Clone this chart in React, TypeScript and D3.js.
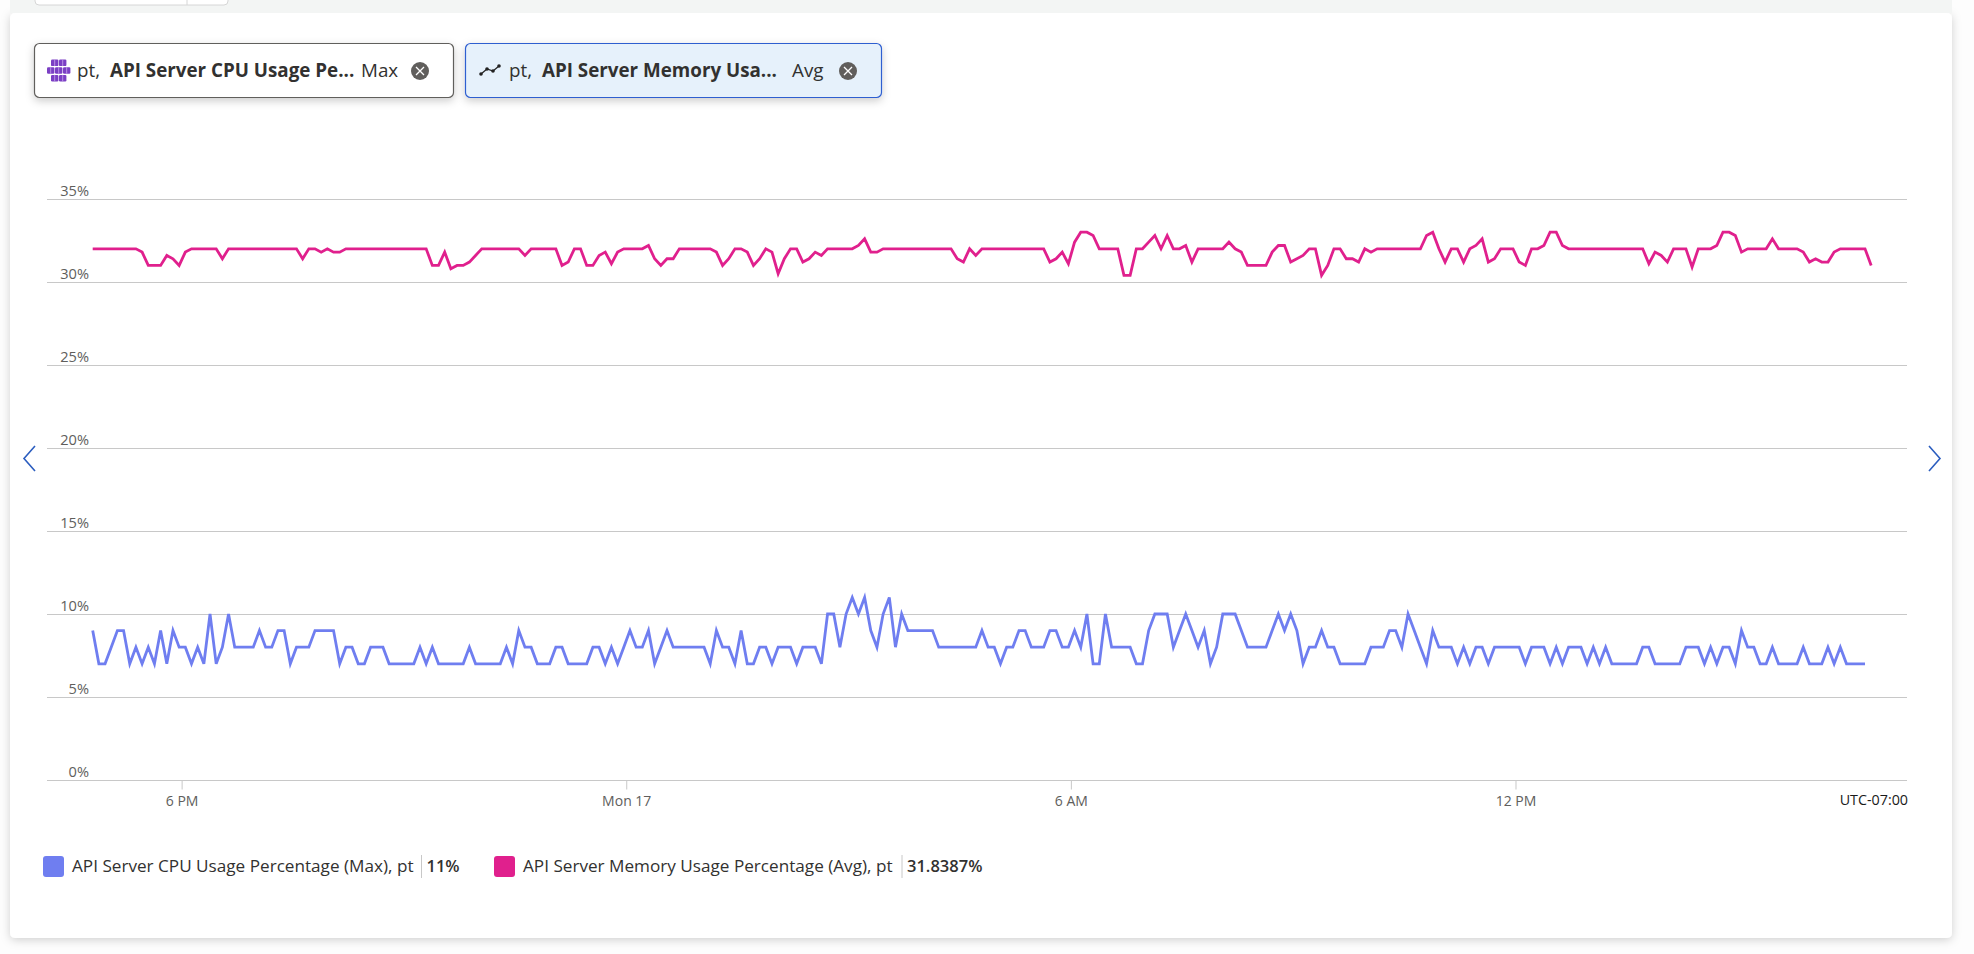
import React, { useEffect, useRef } from "react";
import * as d3 from "d3";

const width = 1974;
const height = 954;
const margin = { left: 47, right: 1907, top: 199, bottom: 780 };

const font = "'Open Sans', sans-serif";
const cpuColor = "#6f7ef0";
const memColor = "#e0208d";

const yTicks = [0, 5, 10, 15, 20, 25, 30, 35];
const xTickTimes = ["2025-03-16T18:00Z", "2025-03-17T00:00Z", "2025-03-17T06:00Z", "2025-03-17T12:00Z"];
const xTickLabels = ["6 PM", "Mon 17", "6 AM", "12 PM"];
const timeZoneLabel = "UTC-07:00";

const domainStart = "2025-03-16T16:11Z";
const domainEnd = "2025-03-17T17:17Z";
const firstSample = "2025-03-16T16:48Z";
const sampleMinutes = 5;

const cpuMax = [
  9, 7, 7, 8, 9, 9, 7, 8, 7, 8,
  7, 9, 7, 9, 8, 8, 7, 8, 7, 10,
  7, 8, 10, 8, 8, 8, 8, 9, 8, 8,
  9, 9, 7, 8, 8, 8, 9, 9, 9, 9,
  7, 8, 8, 7, 7, 8, 8, 8, 7, 7,
  7, 7, 7, 8, 7, 8, 7, 7, 7, 7,
  7, 8, 7, 7, 7, 7, 7, 8, 7, 9,
  8, 8, 7, 7, 7, 8, 8, 7, 7, 7,
  7, 8, 8, 7, 8, 7, 8, 9, 8, 8,
  9, 7, 8, 9, 8, 8, 8, 8, 8, 8,
  7, 9, 8, 8, 7, 9, 7, 7, 8, 8,
  7, 8, 8, 8, 7, 8, 8, 8, 7, 10,
  10, 8, 10, 11, 10, 11, 9, 8, 10, 11,
  8, 10, 9, 9, 9, 9, 9, 8, 8, 8,
  8, 8, 8, 8, 9, 8, 8, 7, 8, 8,
  9, 9, 8, 8, 8, 9, 9, 8, 8, 9,
  8, 10, 7, 7, 10, 8, 8, 8, 8, 7,
  7, 9, 10, 10, 10, 8, 9, 10, 9, 8,
  9, 7, 8, 10, 10, 10, 9, 8, 8, 8,
  8, 9, 10, 9, 10, 9, 7, 8, 8, 9,
  8, 8, 7, 7, 7, 7, 7, 8, 8, 8,
  9, 9, 8, 10, 9, 8, 7, 9, 8, 8,
  8, 7, 8, 7, 8, 8, 7, 8, 8, 8,
  8, 8, 7, 8, 8, 8, 7, 8, 7, 8,
  8, 8, 7, 8, 7, 8, 7, 7, 7, 7,
  7, 8, 8, 7, 7, 7, 7, 7, 8, 8,
  8, 7, 8, 7, 8, 8, 7, 9, 8, 8,
  7, 7, 8, 7, 7, 7, 7, 8, 7, 7,
  7, 8, 7, 8, 7, 7, 7, 7,
];

const memoryAvg = [
  32, 32, 32, 32, 32, 32, 32, 32, 31.8, 31,
  31, 31, 31.6, 31.4, 31, 31.8, 32, 32, 32, 32,
  32, 31.4, 32, 32, 32, 32, 32, 32, 32, 32,
  32, 32, 32, 32, 31.4, 32, 32, 31.8, 32, 31.8,
  31.8, 32, 32, 32, 32, 32, 32, 32, 32, 32,
  32, 32, 32, 32, 32, 31, 31, 31.8, 30.8, 31,
  31, 31.2, 31.6, 32, 32, 32, 32, 32, 32, 32,
  31.6, 32, 32, 32, 32, 32, 31, 31.2, 32, 32,
  31, 31, 31.6, 31.8, 31.1, 31.8, 32, 32, 32, 32,
  32.2, 31.4, 31, 31.4, 31.4, 32, 32, 32, 32, 32,
  32, 31.8, 31, 31.4, 32, 32, 31.8, 31, 31.4, 32,
  31.8, 30.5, 31.4, 32, 32, 31.2, 31.4, 31.8, 31.6, 32,
  32, 32, 32, 32, 32.2, 32.6, 31.8, 31.8, 32, 32,
  32, 32, 32, 32, 32, 32, 32, 32, 32, 32,
  31.4, 31.2, 32, 31.6, 32, 32, 32, 32, 32, 32,
  32, 32, 32, 32, 32, 31.2, 31.4, 31.8, 31.1, 32.4,
  33, 33, 32.8, 32, 32, 32, 32, 30.4, 30.4, 32,
  32, 32.4, 32.8, 32, 32.8, 32, 32, 32.2, 31.2, 32,
  32, 32, 32, 32, 32.4, 32, 31.8, 31, 31, 31,
  31, 31.8, 32.2, 32.2, 31.2, 31.4, 31.6, 32, 32, 30.4,
  31, 32, 32, 31.4, 31.4, 31.2, 32, 31.8, 32, 32,
  32, 32, 32, 32, 32, 32, 32.8, 33, 32, 31.2,
  32, 32, 31.2, 32, 32.2, 32.6, 31.2, 31.4, 32, 32,
  32, 31.2, 31, 32, 32, 32.2, 33, 33, 32.2, 32,
  32, 32, 32, 32, 32, 32, 32, 32, 32, 32,
  32, 32, 31.1, 31.8, 31.6, 31.2, 32, 32, 32, 30.9,
  32, 32, 32, 32.2, 33, 33, 32.8, 31.8, 32, 32,
  32, 32, 32.6, 32, 32, 32, 32, 31.8, 31.2, 31.4,
  31.2, 31.2, 31.8, 32, 32, 32, 32, 32, 31,
];

const chips = [
  { x: 34, w: 419, prefix: "pt,", name: "API Server CPU Usage Pe...", agg: "Max", fill: "#fff", stroke: "#605e5c", pt: 77, nameX: 110, aggX: 361, close: 420 },
  { x: 465, w: 416, prefix: "pt,", name: "API Server Memory Usa...", agg: "Avg", fill: "#e6f1fb", stroke: "#2f5fd0", pt: 509, nameX: 542, aggX: 792, close: 848 },
];

const legend = [
  { x: 43, color: cpuColor, label: "API Server CPU Usage Percentage (Max), pt", value: "11%", dividerX: 421.5 },
  { x: 494, color: memColor, label: "API Server Memory Usage Percentage (Avg), pt", value: "31.8387%", dividerX: 902 },
];

const App: React.FC = () => {
  const ref = useRef<SVGSVGElement>(null);

  useEffect(() => {
    const svg = d3.select(ref.current);
    svg.selectAll("*").remove();

    const defs = svg.append("defs");
    const shadow = (id: string, dy: number, blur: number, op: number) => {
      const f = defs.append("filter").attr("id", id).attr("x", "-10%").attr("y", "-30%").attr("width", "120%").attr("height", "170%");
      f.append("feDropShadow").attr("dx", 0).attr("dy", dy).attr("stdDeviation", blur).attr("flood-color", "#000").attr("flood-opacity", op);
    };
    shadow("chip-shadow", 3, 4, 0.2);
    shadow("card-shadow", 2, 5, 0.18);

    // Page and card
    svg.append("rect").attr("width", width).attr("height", height).attr("fill", "#fdfdfd");
    svg.append("rect").attr("x", 10).attr("y", 13).attr("width", 1942).attr("height", 925).attr("rx", 5).attr("fill", "#fff").attr("filter", "url(#card-shadow)");
    svg.append("rect").attr("x", 10).attr("y", 0).attr("width", 1942).attr("height", 13).attr("fill", "#f3f5f4");
    svg.append("rect").attr("x", 35).attr("y", -10).attr("width", 193).attr("height", 15).attr("rx", 4).attr("fill", "#fff").attr("stroke", "#d6d6d6");
    svg.append("line").attr("x1", 187).attr("x2", 187).attr("y1", 0).attr("y2", 5).attr("stroke", "#d6d6d6");

    // Scales
    const x = d3.scaleUtc().domain([new Date(domainStart), new Date(domainEnd)]).range([margin.left, margin.right]);
    const y = d3.scaleLinear().domain([0, 35]).range([margin.bottom, margin.top]);
    const start = new Date(firstSample).getTime();
    const timeAt = (i: number) => new Date(start + i * sampleMinutes * 60000);

    // Grid lines
    svg.append("g").selectAll("line").data(yTicks).join("line")
      .attr("x1", margin.left).attr("x2", margin.right)
      .attr("y1", (d) => Math.round(y(d)) + 0.5).attr("y2", (d) => Math.round(y(d)) + 0.5)
      .attr("stroke", "#c8c8c8");

    // Y labels
    svg.append("g").selectAll("text").data(yTicks).join("text")
      .attr("x", 89).attr("y", (d) => y(d) - 3)
      .attr("text-anchor", "end").attr("font-family", font).attr("font-size", 14.6).attr("fill", "#605e5c")
      .text((d) => d + "%");

    // X axis
    const xAxis = svg.append("g").attr("transform", `translate(0,${margin.bottom + 0.5})`)
      .call(d3.axisBottom(x).tickValues(xTickTimes.map((d) => new Date(d))).tickSize(9).tickPadding(7)
        .tickFormat((_, i) => xTickLabels[i]));
    xAxis.select(".domain").remove();
    xAxis.selectAll("line").attr("stroke", "#c8c8c8");
    xAxis.selectAll("text").attr("font-family", font).attr("font-size", 14).attr("fill", "#605e5c");

    svg.append("text").attr("x", 1908).attr("y", 805).attr("text-anchor", "end")
      .attr("font-family", font).attr("font-size", 14.3).attr("fill", "#1a1a1a").text(timeZoneLabel);

    // Series
    const line = d3.line<number>().x((_, i) => x(timeAt(i))).y((d) => y(d)).curve(d3.curveLinear);
    svg.append("path").attr("d", line(cpuMax)).attr("fill", "none").attr("stroke", cpuColor).attr("stroke-width", 2.8).attr("stroke-linejoin", "miter");
    svg.append("path").attr("d", line(memoryAvg)).attr("fill", "none").attr("stroke", memColor).attr("stroke-width", 2.8).attr("stroke-linejoin", "miter");

    // Nav arrows
    svg.append("path").attr("d", "M35,446 L24,458.5 L35,471").attr("fill", "none").attr("stroke", "#2b5dbf").attr("stroke-width", 1.6);
    svg.append("path").attr("d", "M1929,446 L1940,458.5 L1929,471").attr("fill", "none").attr("stroke", "#2b5dbf").attr("stroke-width", 1.6);

    // Metric chips
    chips.forEach((c, idx) => {
      const g = svg.append("g");
      g.append("rect").attr("x", c.x + 0.5).attr("y", 43.5).attr("width", c.w).attr("height", 54).attr("rx", 5)
        .attr("fill", c.fill).attr("stroke", c.stroke).attr("stroke-width", 1.2).attr("filter", "url(#chip-shadow)");
      const text = (tx: number, s: string, weight: number) =>
        g.append("text").attr("x", tx).attr("y", 77).attr("font-family", font).attr("font-size", 18.8).attr("font-weight", weight).attr("fill", "#323130").text(s);
      text(c.pt, c.prefix, 400);
      text(c.nameX, c.name, 700);
      text(c.aggX, c.agg, 400);
      g.append("circle").attr("cx", c.close).attr("cy", 71).attr("r", 9).attr("fill", "#605e5c");
      g.append("path").attr("d", `M${c.close - 4},67 L${c.close + 4},75 M${c.close + 4},67 L${c.close - 4},75`).attr("stroke", "#fff").attr("stroke-width", 1.3);
      if (idx === 0) {
        const rows = [[51, 59], [47, 55, 63], [51, 59]];
        rows.forEach((row, r) => row.forEach((cx) => {
          g.append("rect").attr("x", cx).attr("y", 59.5 + r * 7.7).attr("width", 7.4).attr("height", 6.6).attr("rx", 1.2).attr("fill", "#7b3fc4");
          g.append("line").attr("x1", cx + 3.7).attr("x2", cx + 3.7).attr("y1", 59.5 + r * 7.7).attr("y2", 66 + r * 7.7).attr("stroke", "#c9a6ee").attr("stroke-width", 0.8);
        }));
      } else {
        g.append("path").attr("d", "M481,74 L487,69 L493,71 L499,66").attr("fill", "none").attr("stroke", "#222").attr("stroke-width", 1.2);
        [[481, 74], [487, 69], [493, 71], [499, 66]].forEach(([cx, cy]) => g.append("circle").attr("cx", cx).attr("cy", cy).attr("r", 1.8).attr("fill", "#222"));
      }
    });

    // Legend
    legend.forEach((l) => {
      const g = svg.append("g");
      g.append("rect").attr("x", l.x).attr("y", 856).attr("width", 21).attr("height", 21).attr("rx", 3).attr("fill", l.color);
      g.append("text").attr("x", l.x + 29).attr("y", 872).attr("font-family", font).attr("font-size", 17.15).attr("fill", "#323130").text(l.label);
      g.append("line").attr("x1", l.dividerX).attr("x2", l.dividerX).attr("y1", 855).attr("y2", 878).attr("stroke", "#c8c8c8");
      g.append("text").attr("x", l.dividerX + 5).attr("y", 872).attr("font-family", font).attr("font-size", 16.5).attr("font-weight", 600).attr("fill", "#323130").text(l.value);
    });
  }, []);

  return (
    <div style={{ position: "absolute", left: 0, top: 0 }}>
      <svg ref={ref} width={width} height={height} style={{ display: "block" }} />
    </div>
  );
};

export default App;
